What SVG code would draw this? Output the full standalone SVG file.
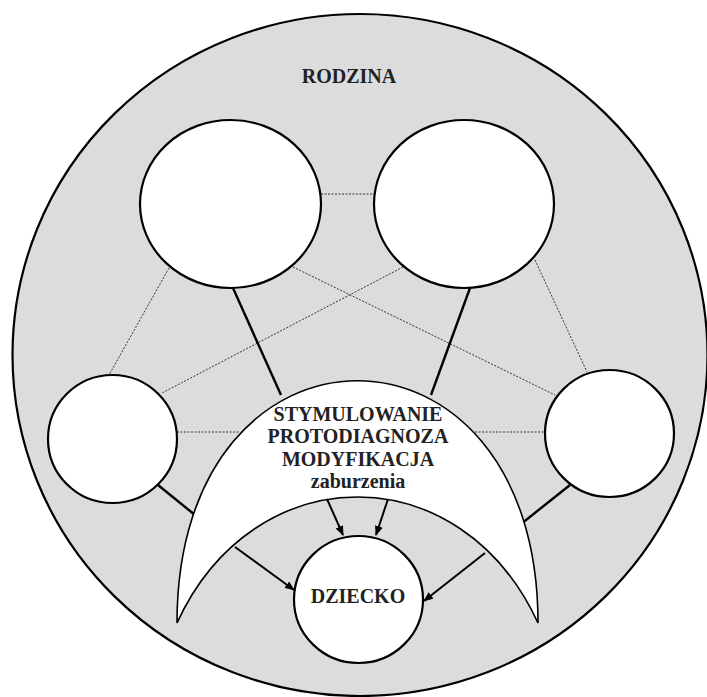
<svg xmlns="http://www.w3.org/2000/svg" width="707" height="697" viewBox="0 0 707 697">
<style>
.node{fill:#fff;stroke:#000;stroke-width:2.2}
.dot{stroke:#333;stroke-width:1;stroke-dasharray:2,1.5;fill:none}
.solid{stroke:#000;stroke-width:2.4;fill:none}
.arr{stroke:#000;stroke-width:2;fill:none;marker-end:url(#ah)}
.t{font-family:"Liberation Serif","Times New Roman",serif;font-weight:bold;font-size:20px;fill:#222;text-anchor:middle}
</style>
<defs>
<marker id="ah" viewBox="0 0 10 8" refX="9" refY="4" markerWidth="10" markerHeight="8" markerUnits="userSpaceOnUse" orient="auto">
<path d="M0,0 L10,4 L0,8 Z" fill="#000"/>
</marker>
</defs>
<rect width="707" height="697" fill="#fff"/>
<g id="rodzina">
<ellipse cx="360" cy="355" rx="347.5" ry="341" fill="#dcdcdc" stroke="#000" stroke-width="2.2"/>
<text class="t" x="349" y="83">RODZINA</text>
</g>
<g id="connectors">
<line class="dot" x1="321" y1="194" x2="374" y2="194"/>
<line class="dot" x1="169" y1="268" x2="109" y2="375"/>
<line class="dot" x1="293" y1="267" x2="555" y2="395"/>
<line class="dot" x1="403" y1="267" x2="162" y2="393"/>
<line class="dot" x1="535" y1="260" x2="587" y2="372"/>
<line class="dot" x1="177" y1="432" x2="240" y2="432"/>
<line class="dot" x1="475" y1="432" x2="545" y2="432"/>
<line class="solid" x1="233" y1="288" x2="281" y2="395"/>
<line class="solid" x1="470" y1="288" x2="431" y2="395"/>
<line class="solid" x1="158" y1="485" x2="195" y2="515"/>
<line class="solid" x1="570" y1="485" x2="521" y2="524"/>
</g>
<g id="oddzialywanie">
<path d="M177,623 C177,300 538,300 538,623 C461,455 254,455 177,623 Z" fill="#fff" stroke="#000" stroke-width="1.6"/>
<text class="t" x="358" y="421">STYMULOWANIE</text>
<text class="t" x="358" y="443">PROTODIAGNOZA</text>
<text class="t" x="358" y="466">MODYFIKACJA</text>
<text class="t" x="358" y="488">zaburzenia</text>
</g>
<g id="arrows">
<line class="arr" x1="327" y1="499" x2="343" y2="535"/>
<line class="arr" x1="388" y1="499" x2="376" y2="535"/>
<line class="arr" x1="235" y1="547" x2="294" y2="590"/>
<line class="arr" x1="485" y1="553" x2="424" y2="601"/>
</g>
<g id="osoba1"><ellipse class="node" cx="230.5" cy="204" rx="90.5" ry="84"/></g>
<g id="osoba2"><ellipse class="node" cx="464" cy="204" rx="90" ry="84"/></g>
<g id="osoba3"><ellipse class="node" cx="112.5" cy="439" rx="64.5" ry="64"/></g>
<g id="osoba4"><ellipse class="node" cx="609.5" cy="433.5" rx="64.5" ry="63.5"/></g>
<g id="dziecko">
<ellipse class="node" cx="358.5" cy="599.5" rx="64.5" ry="63.5"/>
<text class="t" x="358" y="603">DZIECKO</text>
</g>
</svg>
